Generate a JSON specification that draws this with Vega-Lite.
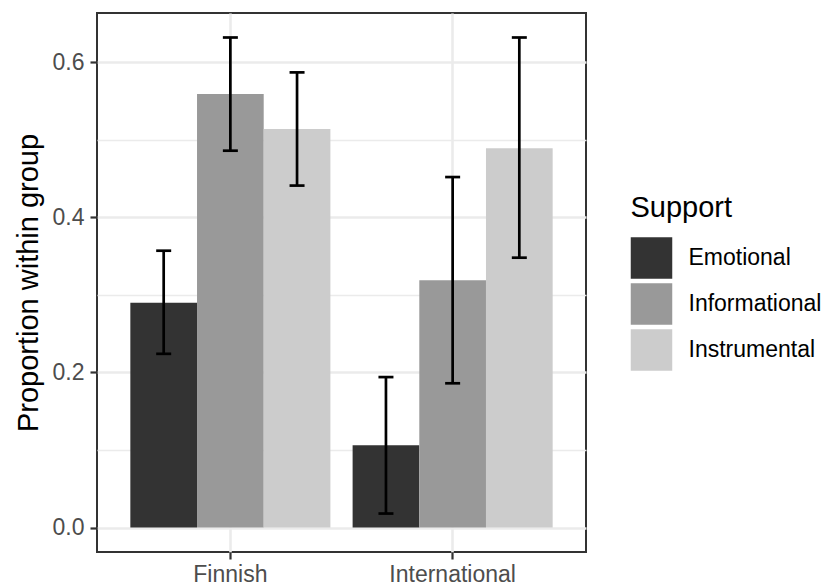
{
  "$schema": "https://vega.github.io/schema/vega-lite/v6.json",
  "width": 489,
  "height": 539,
  "autosize": {"type": "none"},
  "padding": {"left": 97, "top": 13, "right": 238, "bottom": 33},
  "background": "white",
  "config": {
    "font": "Liberation Sans",
    "view": {"stroke": "#333333", "strokeWidth": 2}
  },
  "data": {
    "values": [
      {"Group": "Finnish", "Support": "Emotional", "prop": 0.290, "lo": 0.224, "hi": 0.357},
      {"Group": "Finnish", "Support": "Informational", "prop": 0.559, "lo": 0.486, "hi": 0.632},
      {"Group": "Finnish", "Support": "Instrumental", "prop": 0.514, "lo": 0.441, "hi": 0.587},
      {"Group": "International", "Support": "Emotional", "prop": 0.106, "lo": 0.018, "hi": 0.194},
      {"Group": "International", "Support": "Informational", "prop": 0.319, "lo": 0.186, "hi": 0.452},
      {"Group": "International", "Support": "Instrumental", "prop": 0.489, "lo": 0.348, "hi": 0.632}
    ]
  },
  "encoding": {
    "x": {
      "field": "Group",
      "type": "nominal",
      "scale": {"paddingInner": 0.1, "paddingOuter": 0.15},
      "axis": {
        "title": null,
        "labelAngle": 0,
        "grid": true,
        "gridColor": "#EBEBEB",
        "gridWidth": 2.6,
        "tickColor": "#333333",
        "tickSize": 7,
        "tickWidth": 2.2,
        "labelFontSize": 23,
        "labelColor": "#4D4D4D",
        "labelPadding": 4,
        "domain": false
      }
    },
    "xOffset": {
      "field": "Support",
      "type": "nominal",
      "scale": {"paddingInner": 0, "paddingOuter": 0}
    }
  },
  "layer": [
    {
      "mark": {"type": "bar", "strokeWidth": 0},
      "encoding": {
        "y": {
          "field": "prop",
          "type": "quantitative",
          "scale": {"domain": [-0.0316, 0.6636], "nice": false, "zero": false},
          "axis": {
            "title": "Proportion within group",
            "values": [0, 0.1, 0.2, 0.3, 0.4, 0.5, 0.6],
            "format": ".1f",
            "labelExpr": "round(datum.value*10)%2==1 ? '' : datum.label",
            "grid": true,
            "gridColor": "#EBEBEB",
            "gridWidth": {"condition": {"test": "round(datum.value*10)%2==1", "value": 1.3}, "value": 2.6},
            "tickOpacity": {"condition": {"test": "round(datum.value*10)%2==1", "value": 0}, "value": 1},
            "tickColor": "#333333",
            "tickSize": 7,
            "tickWidth": 2.2,
            "labelFontSize": 23,
            "labelColor": "#4D4D4D",
            "labelPadding": 6,
            "domain": false,
            "titleFontSize": 29,
            "titleFontWeight": "normal",
            "titleColor": "black",
            "titlePadding": 9
          }
        },
        "y2": {"datum": 0},
        "fill": {
          "field": "Support",
          "type": "nominal",
          "scale": {"domain": ["Emotional", "Informational", "Instrumental"], "range": ["#333333", "#999999", "#CCCCCC"]},
          "legend": {
            "title": "Support",
            "orient": "none",
            "legendX": 533.5,
            "legendY": 181,
            "padding": 0,
            "titleFontSize": 29,
            "titleFontWeight": "normal",
            "titleColor": "black",
            "titlePadding": 14,
            "labelFontSize": 23,
            "labelColor": "black",
            "labelOffset": 16,
            "symbolType": "square",
            "symbolSize": 1722,
            "symbolStrokeWidth": 0,
            "symbolOpacity": 1,
            "rowPadding": 4
          }
        }
      }
    },
    {
      "mark": {"type": "rule", "strokeWidth": 2.7, "color": "black"},
      "encoding": {
        "y": {"field": "lo", "type": "quantitative"},
        "y2": {"field": "hi"}
      }
    },
    {
      "mark": {"type": "tick", "size": 15, "thickness": 2.7, "color": "black", "opacity": 1},
      "encoding": {
        "y": {"field": "lo", "type": "quantitative"}
      }
    },
    {
      "mark": {"type": "tick", "size": 15, "thickness": 2.7, "color": "black", "opacity": 1},
      "encoding": {
        "y": {"field": "hi", "type": "quantitative"}
      }
    }
  ]
}
